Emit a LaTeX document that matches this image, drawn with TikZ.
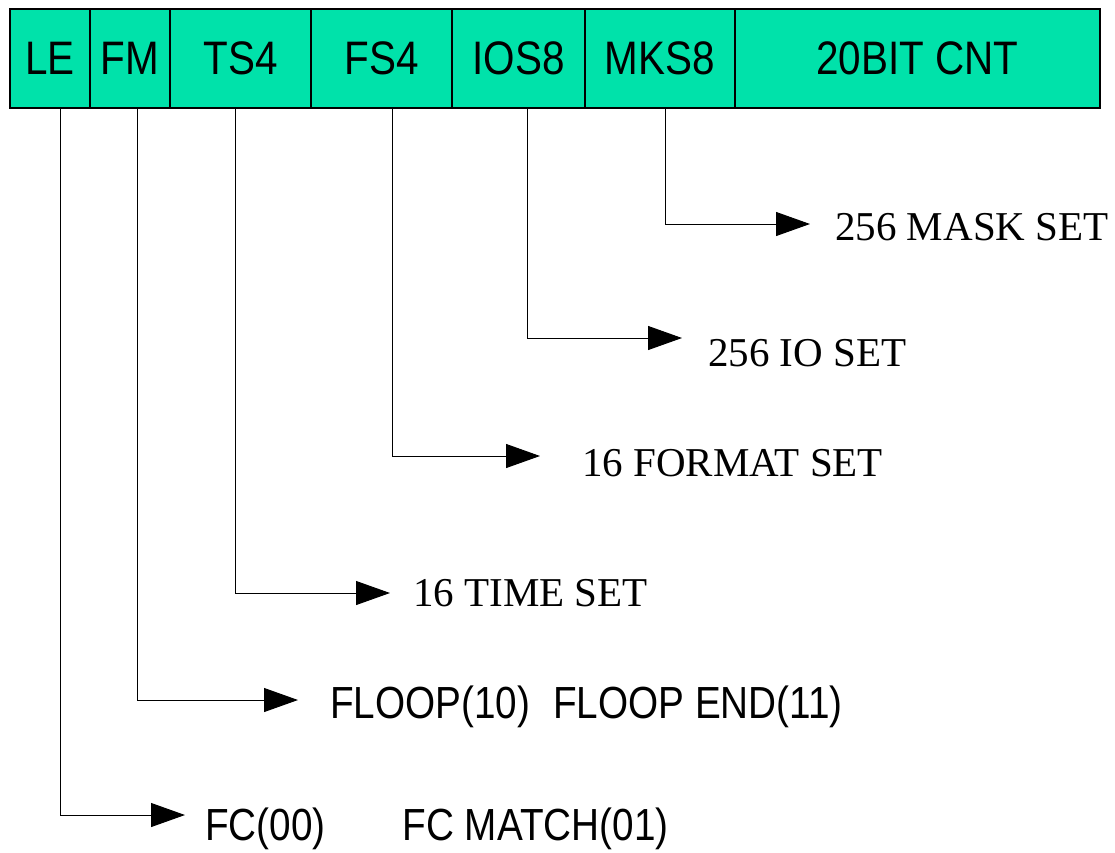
\documentclass[tikz,border=0pt]{standalone}
\usepackage{fontspec}
\newfontfamily\fieldfont[FakeStretch=0.86]{Liberation Sans}
\newfontfamily\setfont{Liberation Serif}
\usetikzlibrary{arrows.meta,positioning}
\definecolor{fieldgreen}{RGB}{0,226,170}

\begin{document}
\begin{tikzpicture}[x=1pt, y=-1pt,
  field/.style={draw, line width=1.5pt, fill=fieldgreen, minimum height=99pt, inner sep=0pt, outer sep=0pt, font=\fieldfont\fontsize{47}{52}\selectfont},
  codelabel/.style={inner sep=0pt, anchor=base west, font=\fieldfont\fontsize{45}{50}\selectfont},
  setlabel/.style={inner sep=0pt, anchor=base west, font=\setfont\fontsize{41}{48}\selectfont},
  conn/.style={line width=1pt, -{Triangle[length=34pt, width=24pt]}}]
  \useasboundingbox (0,0) rectangle (1115,852);
  \node[field, minimum width=80pt, anchor=north west] (le) at (10,9) {LE};
  \node[field, minimum width=80pt, right=0pt of le] (fm) {FM};
  \node[field, minimum width=141pt, right=0pt of fm] (ts) {TS4};
  \node[field, minimum width=141pt, right=0pt of ts] (fs) {FS4};
  \node[field, minimum width=133pt, right=0pt of fs] (ios) {IOS8};
  \node[field, minimum width=150pt, right=0pt of ios] (mks) {MKS8};
  \node[field, minimum width=365pt, right=0pt of mks] (cnt) {20BIT CNT};

  \node[setlabel] (maskset) at (835,240) {256 MASK SET};
  \node[setlabel] (ioset) at (708,366) {256 IO SET};
  \node[setlabel] (formatset) at (582,476) {16 FORMAT SET};
  \node[setlabel] (timeset) at (413,606) {16 TIME SET};
  \node[codelabel] (floop) at (330,718) {FLOOP(10)\hspace{23pt}FLOOP END(11)};
  \node[codelabel] (fc) at (205,840) {FC(00)\hspace{77pt}FC MATCH(01)};

  \coordinate (mask-tip) at (810,224);
  \coordinate (io-tip) at (682,338);
  \coordinate (format-tip) at (540,456);
  \coordinate (time-tip) at (390,593);
  \coordinate (floop-tip) at (298,700);
  \coordinate (fc-tip) at (185,815);

  \draw[conn] ([xshift=5pt]mks.south) |- (mask-tip);
  \draw[conn] ([xshift=8.5pt]ios.south) |- (io-tip);
  \draw[conn] ([xshift=10.5pt]fs.south) |- (format-tip);
  \draw[conn] ([xshift=-5.5pt]ts.south) |- (time-tip);
  \draw[conn] ([xshift=7pt]fm.south) |- (floop-tip);
  \draw[conn] ([xshift=10pt]le.south) |- (fc-tip);
\end{tikzpicture}
\end{document}
